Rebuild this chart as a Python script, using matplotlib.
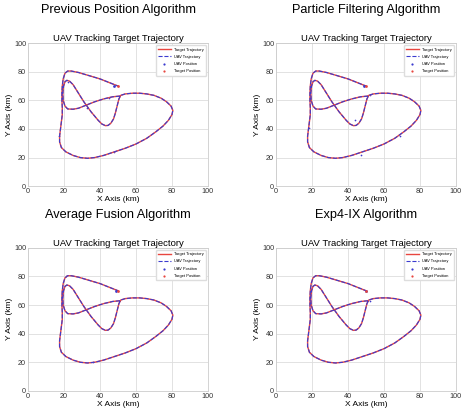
import matplotlib.pyplot as plt

plt.rcParams["font.family"] = ["Liberation Sans", "DejaVu Sans"]

# target path waypoints (km)
target_x = [51.0, 47, 42, 37, 32, 28, 25, 22, 20.5, 19.5, 19.3, 19.7, 20.5, 21.5,
            23, 25, 27, 29, 31, 33, 35, 37, 39, 41, 43, 44.5, 46, 47.5, 48.5,
            49.5, 50.5, 51.5, 54, 58, 62, 66, 70, 74, 77, 79.5, 80.5, 80, 78,
            75, 71, 66, 60, 54, 48, 42, 37, 33, 29, 25, 21, 18.5, 17.5, 17.5,
            18, 18.5, 19, 19, 18.8, 18.8, 19, 19.5, 20.5, 22, 24, 28, 32, 36,
            40, 44, 47, 50]
target_y = [63.0, 62.5, 61, 59, 56.5, 54.5, 53.8, 54, 56, 60, 65, 70, 73, 74,
            73.5, 71, 67, 63, 59, 55.5, 52, 49, 46, 43.5, 42.3, 42.5, 44, 47,
            51, 56, 61, 63.5, 64.5, 65, 65, 64.5, 63.5, 61.5, 59, 56, 53, 50,
            46, 42, 38, 33.5, 29.5, 26.5, 24, 21.5, 20, 19.5, 20, 21.5, 24,
            27, 31, 35, 40, 45, 50, 55, 60, 65, 70, 75, 79, 80.5, 80.5, 79.5,
            78, 76.5, 75, 73, 71.5, 70]

titles = ["Previous Position Algorithm", "Particle Filtering Algorithm",
          "Average Fusion Algorithm", "Exp4-IX Algorithm"]

# final UAV position per algorithm
uav_end_x = [48, 49, 49, 50]
uav_end_y = [70, 70, 70, 70]

# visible off-track UAV fixes per algorithm
stray_x = [[17, 19, 22, 48, 45, 33], [18, 44, 47, 52, 69], [19, 21, 36], [52]]
stray_y = [[35, 66, 73, 24, 62, 55], [41, 46, 22, 64, 35], [67, 80, 20], [63]]

red = "#e8463f"
blue = "#3b3bcf"

fig = plt.figure(figsize=(4.61, 4.11), dpi=100)

lefts = [0.061, 0.599, 0.061, 0.599]
bottoms = [0.547, 0.547, 0.049, 0.049]
title_y = [0.975, 0.975, 0.477, 0.477]

for i in range(4):
    ax = fig.add_axes([lefts[i], bottoms[i], 0.39, 0.348])
    ax.plot(target_x, target_y, color=red, lw=1.0, label="Target Trajectory")
    ax.plot(target_x, target_y, color=blue, lw=0.8, ls="--", label="UAV Trajectory")
    ax.scatter(stray_x[i], stray_y[i], color=blue, s=1.5, lw=0)
    ax.scatter([uav_end_x[i]], [uav_end_y[i]], color=blue, s=4, lw=0,
               label="UAV Position", zorder=3)
    ax.scatter([target_x[-1]], [target_y[-1]], color=red, s=4, lw=0,
               label="Target Position", zorder=3)
    ax.set_xlim(0, 100)
    ax.set_ylim(0, 100)
    ax.set_xticks([0, 20, 40, 60, 80, 100])
    ax.set_yticks([0, 20, 40, 60, 80, 100])
    ax.tick_params(length=0, labelsize=5.2, pad=1.5, colors="#333333")
    ax.grid(color="#dddddd", lw=0.6)
    for s in ax.spines.values():
        s.set_color("#cccccc")
        s.set_linewidth(0.6)
    ax.set_xlabel("X Axis (km)", fontsize=6, labelpad=0.5)
    ax.set_ylabel("Y Axis (km)", fontsize=6, labelpad=1)
    ax.set_title("UAV Tracking Target Trajectory", fontsize=6.8, pad=1.5)
    ax.legend(loc="upper right", fontsize=2.9, markerscale=0.8, handlelength=3,
              borderpad=0.6, labelspacing=0.8, framealpha=1, edgecolor="#dddddd")
    fig.text(lefts[i] + 0.195, title_y[i], titles[i], ha="center", va="center",
             fontsize=9.2)

fig.savefig("out.png", dpi=100)
